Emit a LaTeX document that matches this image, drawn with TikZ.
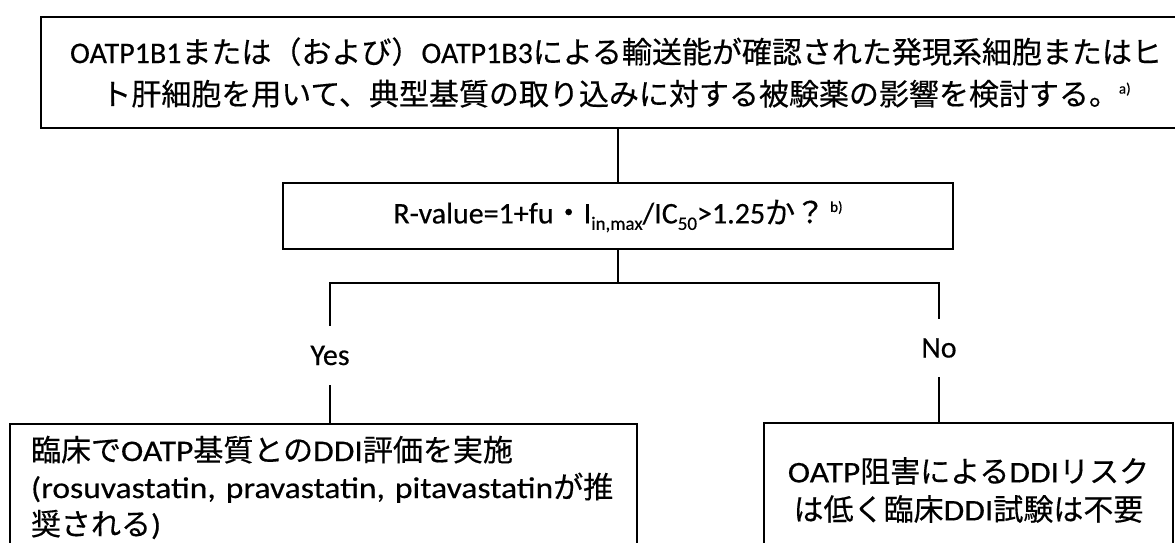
\documentclass[tikz,border=0pt]{standalone}
\usepackage{fontspec}
\setmainfont{Carlito}[FakeBold=0.4]
\newfontfamily\jp{Noto Sans CJK JP}[FakeBold=0.4]
\newfontfamily\latw{Carlito}[FakeStretch=1.12, FakeBold=0.4]
\newcommand\J[1]{{\jp #1}}
\newcommand\supnote[1]{\raisebox{0.8ex}{\fontsize{15}{15}\selectfont #1}}
\newcommand\subnote[1]{\raisebox{-0.45ex}{\fontsize{19}{19}\selectfont #1}}
\begin{document}
\begin{tikzpicture}[x=1pt,y=-1pt,
  box/.style={draw, line width=2pt, inner sep=0pt},
  conn/.style={draw, line width=1.6pt},
  lbl/.style={inner sep=0pt, font=\fontsize{30}{35}\selectfont},
  ]
\useasboundingbox (0,0) rectangle (1175,543);
\fill[white] (0,0) rectangle (1175,543);

\node[box, anchor=north west, minimum width=1150, minimum height=111, align=center,
  font=\fontsize{30}{42}\selectfont] (top) at (40,16)
  {OATP1B1\J{または（および）}OATP1B3\J{による輸送能が確認された発現系細胞またはヒ}\\
   \J{ト肝細胞を用いて、典型基質の取り込みに対する被験薬の影響を検討する。}\supnote{a)}};

\node[box, minimum width=670, minimum height=66, font=\fontsize{30}{35}\selectfont] (mid) at (618,216)
  {R-value=1+fu\J{・}I\subnote{in,max}/IC\subnote{50}>1.25\J{か？}\,\supnote{b)}};

\coordinate (j) at (618,283);
\coordinate (jy) at (330,283);
\coordinate (jn) at (939,283);

\node[lbl, minimum height=59] (yes) at (330,355.5) {Yes};
\node[lbl, minimum height=58] (no) at (939,348) {No};

\node[box, anchor=north west, text width=585, inner xsep=21, inner ysep=0, minimum height=127,
  align=left, font=\fontsize{30}{37}\selectfont\latw] (left) at (9,423)
  {\mbox{\J{臨床で}OATP\J{基質との}DDI\J{評価を実施}}\\
   \mbox{(rosuvastatin, pravastatin, pitavastatin\J{が推}}\\
   \mbox{\J{奨される})}};

\node[box, anchor=north west, minimum width=409, minimum height=134, align=center,
  font=\fontsize{30}{38}\selectfont\latw] (right) at (763,422)
  {OATP\J{阻害による}DDI\J{リスク}\\\J{は低く臨床}DDI\J{試験は不要}};

\draw[conn] (top.south -| mid.north) -- (mid.north);
\draw[conn] (mid.south) -- (j);
\draw[conn] (yes.north) -- (jy) -- (jn) -- (no.north);
\draw[conn] (yes.south) -- (yes.south |- left.north);
\draw[conn] (no.south) -- (no.south |- right.north);
\end{tikzpicture}
\end{document}
